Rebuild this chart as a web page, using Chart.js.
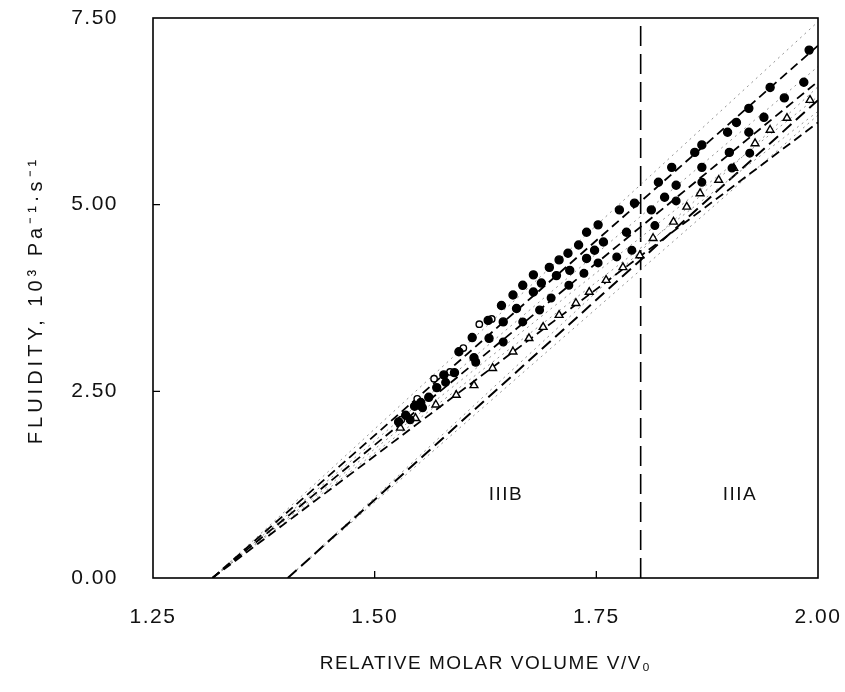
<!DOCTYPE html>
<html>
<head>
<title>Fluidity vs Relative Molar Volume</title>
<script src="https://cdn.jsdelivr.net/npm/chart.js"></script>
<style>
body { margin: 0; background: #fff; }
#chartBox { width: 845px; height: 692px; }
</style>
</head>
<body>
<div id="chartBox">
  <canvas id="myChart" width="845" height="692"></canvas>
</div>

<script>
// axis ranges and tick labels
const xTicks = [1.25, 1.50, 1.75, 2.00];
const yTicks = [0.00, 2.50, 5.00, 7.50];

// region boundary and labels
const boundaryX = 1.80;
const regionNames = ['IIIB', 'IIIA'];
const regionX = [1.648, 1.912];
const regionY = 1.11;

// filled circles, upper band
const topDotsX = [1.527, 1.545, 1.561, 1.578, 1.595, 1.610, 1.628, 1.643, 1.656, 1.667, 1.679, 1.697, 1.708, 1.718,
  1.730, 1.739, 1.752, 1.776, 1.793, 1.820, 1.835, 1.861, 1.869, 1.898, 1.908, 1.922, 1.946, 1.990];
const topDotsY = [2.09, 2.30, 2.42, 2.72, 3.03, 3.22, 3.45, 3.65, 3.79, 3.92, 4.06, 4.16, 4.26, 4.35,
  4.46, 4.63, 4.73, 4.93, 5.02, 5.30, 5.50, 5.70, 5.80, 5.97, 6.10, 6.29, 6.57, 7.07];

// filled circles, middle band
const midDotsX = [1.535, 1.552, 1.570, 1.590, 1.612, 1.629, 1.645, 1.660, 1.679, 1.688, 1.705, 1.720, 1.739,
  1.748, 1.758, 1.784, 1.812, 1.827, 1.840, 1.869, 1.900, 1.922, 1.939, 1.962, 1.984];
const midDotsY = [2.18, 2.35, 2.55, 2.75, 2.95, 3.21, 3.43, 3.61, 3.83, 3.95, 4.05, 4.12, 4.28,
  4.39, 4.50, 4.63, 4.93, 5.10, 5.26, 5.50, 5.70, 5.97, 6.17, 6.43, 6.64];

// filled circles, lower band
const lowDotsX = [1.540, 1.554, 1.580, 1.614, 1.645, 1.667, 1.686, 1.699, 1.719, 1.736, 1.752, 1.773, 1.790,
  1.816, 1.840, 1.869, 1.903, 1.923];
const lowDotsY = [2.12, 2.28, 2.62, 2.89, 3.16, 3.43, 3.59, 3.75, 3.92, 4.08, 4.22, 4.30, 4.39,
  4.72, 5.05, 5.30, 5.49, 5.69];

// open triangles
const triX = [1.529, 1.546, 1.569, 1.592, 1.612, 1.633, 1.656, 1.674, 1.690, 1.708, 1.727, 1.742, 1.761,
  1.780, 1.799, 1.814, 1.837, 1.852, 1.867, 1.888, 1.905, 1.929, 1.946, 1.965, 1.991];
const triY = [2.01, 2.14, 2.32, 2.45, 2.58, 2.81, 3.03, 3.21, 3.36, 3.52, 3.68, 3.83, 3.99,
  4.16, 4.32, 4.55, 4.77, 4.97, 5.15, 5.33, 5.49, 5.82, 6.00, 6.16, 6.40];

// open circles
const ringX = [1.530, 1.548, 1.567, 1.585, 1.600, 1.618, 1.632];
const ringY = [2.12, 2.40, 2.67, 2.76, 3.08, 3.40, 3.47];

// extrapolated fits: x-intercepts and values at V/V0 = 2.00
const upperRoot = 1.317;
const lowerRoot = 1.402;
const lineEndX = 2.00;
const upperDashedEnds = [7.13, 6.65, 6.10];
const upperDottedEnds = [7.45, 6.85, 6.45, 6.25];
const lowerDashedEnds = [6.40];
const lowerDottedEnds = [6.58, 6.20];

const yTitle = 'FLUIDITY, 10\u00b3 Pa\u207b\u00b9\u00b7s\u207b\u00b9';
const fontFamily = '"Liberation Sans", Arial, sans-serif';

const pts = (xs, ys) => xs.map((x, i) => ({ x: x, y: ys[i] }));

function pointSet(xs, ys, style, filled, radius) {
  return {
    data: pts(xs, ys),
    showLine: false,
    pointStyle: style,
    pointRadius: radius,
    pointBackgroundColor: filled ? '#000' : '#fff',
    pointBorderColor: '#000',
    pointBorderWidth: 1.4
  };
}

function fitLine(root, end, dash, width, color) {
  return {
    data: [{ x: root, y: 0 }, { x: lineEndX, y: end }],
    showLine: true,
    pointRadius: 0,
    borderColor: color,
    borderWidth: width,
    borderDash: dash,
    fill: false
  };
}

const datasets = [
  pointSet(topDotsX, topDotsY, 'circle', true, 4),
  pointSet(midDotsX, midDotsY, 'circle', true, 4),
  pointSet(lowDotsX, lowDotsY, 'circle', true, 3.8),
  pointSet(triX, triY, 'triangle', false, 4.5),
  pointSet(ringX, ringY, 'circle', false, 3.2)
];
upperDashedEnds.forEach(e => datasets.push(fitLine(upperRoot, e, [9, 5], 1.8, '#000')));
upperDottedEnds.forEach(e => datasets.push(fitLine(upperRoot, e, [2, 4], 0.8, '#777')));
lowerDashedEnds.forEach(e => datasets.push(fitLine(lowerRoot, e, [12, 6], 2, '#000')));
lowerDottedEnds.forEach(e => datasets.push(fitLine(lowerRoot, e, [2, 4], 0.8, '#777')));
datasets.push({
  data: [{ x: boundaryX, y: yTicks[0] }, { x: boundaryX, y: yTicks[yTicks.length - 1] }],
  showLine: true,
  pointRadius: 0,
  borderColor: '#000',
  borderWidth: 1.6,
  borderDash: [20, 8]
});

const spacing = {
  id: 'spacing',
  beforeUpdate(chart) { chart.ctx.letterSpacing = '1.5px'; },
  beforeDraw(chart) { chart.ctx.letterSpacing = '1.5px'; }
};

const frame = {
  id: 'frame',
  afterDatasetsDraw(chart) {
    const { ctx, chartArea: a, scales } = chart;
    ctx.save();
    ctx.strokeStyle = '#000';
    ctx.lineWidth = 1.6;
    ctx.setLineDash([]);
    ctx.strokeRect(a.left, a.top, a.right - a.left, a.bottom - a.top);
    ctx.lineWidth = 1.3;
    ctx.beginPath();
    xTicks.slice(1, -1).forEach(v => {
      const px = scales.x.getPixelForValue(v);
      ctx.moveTo(px, a.bottom);
      ctx.lineTo(px, a.bottom - 7);
    });
    yTicks.slice(1, -1).forEach(v => {
      const py = scales.y.getPixelForValue(v);
      ctx.moveTo(a.left, py);
      ctx.lineTo(a.left + 7, py);
    });
    ctx.stroke();
    ctx.fillStyle = '#111';
    ctx.font = '19px ' + fontFamily;
    ctx.textAlign = 'center';
    ctx.textBaseline = 'middle';
    regionNames.forEach((n, i) => {
      ctx.fillText(n, scales.x.getPixelForValue(regionX[i]), scales.y.getPixelForValue(regionY));
    });
    // y axis title, wider letter spacing than the rest
    ctx.letterSpacing = '4px';
    ctx.font = '20px ' + fontFamily;
    ctx.translate(36, (a.top + a.bottom) / 2 + 2);
    ctx.rotate(-Math.PI / 2);
    ctx.fillText(yTitle, 0, 0);
    ctx.restore();
  }
};

const ctx = document.getElementById('myChart').getContext('2d');
new Chart(ctx, {
  type: 'scatter',
  data: { datasets: datasets },
  plugins: [spacing, frame],
  options: {
    responsive: false,
    animation: false,
    layout: { padding: { top: 18, right: 27, left: 0, bottom: 0 } },
    plugins: { legend: { display: false }, tooltip: { enabled: false } },
    scales: {
      x: {
        type: 'linear',
        min: xTicks[0],
        max: xTicks[xTicks.length - 1],
        afterFit: s => { s.height = 114; s.paddingLeft = 0; s.paddingRight = 0; },
        afterBuildTicks: s => { s.ticks = xTicks.map(v => ({ value: v })); },
        grid: { display: false, drawTicks: false },
        border: { display: false },
        ticks: {
          padding: 27,
          maxRotation: 0,
          color: '#111',
          font: { family: fontFamily, size: 21 },
          callback: v => Number(v).toFixed(2)
        },
        title: {
          display: true,
          text: 'RELATIVE MOLAR VOLUME V/V\u2080',
          color: '#111',
          padding: { top: 0, bottom: 17 },
          font: { family: fontFamily, size: 19 }
        }
      },
      y: {
        type: 'linear',
        min: yTicks[0],
        max: yTicks[yTicks.length - 1],
        afterFit: s => { s.width = 153; s.paddingTop = 0; s.paddingBottom = 0; },
        afterBuildTicks: s => { s.ticks = yTicks.map(v => ({ value: v })); },
        grid: { display: false, drawTicks: false },
        border: { display: false },
        ticks: {
          padding: 35,
          color: '#111',
          font: { family: fontFamily, size: 21 },
          callback: v => Number(v).toFixed(2)
        }
      }
    }
  }
});
</script>
</body>
</html>
